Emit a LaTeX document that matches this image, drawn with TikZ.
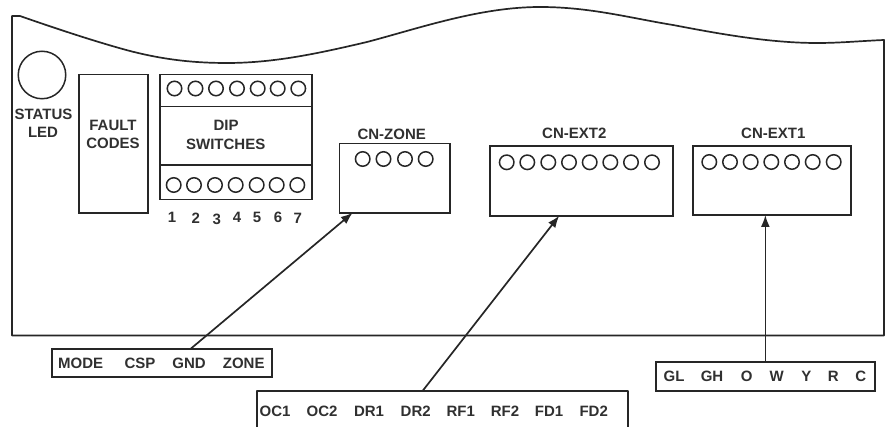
\documentclass[tikz,border=0pt]{standalone}
\usepackage{fontspec}
\setmainfont{Liberation Sans}
\usetikzlibrary{arrows.meta,calc}
\definecolor{ink}{HTML}{262626}
\definecolor{inktext}{HTML}{303030}
\tikzset{
  lbl/.style={font=\bfseries\fontsize{15}{17}\selectfont,text=inktext,inner sep=0pt,anchor=center},
  boxn/.style={draw=ink,line width=1.7pt,minimum width=#1,inner sep=0pt,outer sep=0pt},
  pin/.style={draw=ink,line width=1.5pt,circle,minimum size=14.5pt,inner sep=0pt},
  wire/.style={draw=ink,line width=1.7pt},
  arrowwire/.style={wire,-{Latex[length=12pt,width=9pt]}},
  edge/.style={draw=ink,line width=1.7pt,line join=round}
}
\begin{document}
\begin{tikzpicture}[x=1pt,y=-1pt]
\useasboundingbox (0,0) rectangle (891,427);
% board outline
\draw[edge] (12,335.5) -- (12,16) -- (20,16)
  .. controls (60,30) and (100,43) .. (130,51)
  .. controls (165,60) and (195,63) .. (227,63)
  .. controls (275,63) and (320,53) .. (367,42)
  .. controls (420,28) and (480,7) .. (540,7)
  .. controls (590,7) and (630,18) .. (673,25)
  .. controls (720,34) and (770,43) .. (817,43)
  .. controls (840,43) and (860,41) .. (884,40)
  -- (884,335.5) -- cycle;
% LED
\node[draw=ink,line width=1.5pt,circle,minimum size=47.5pt,inner sep=0pt] (led) at (42,75) {};
\node[lbl] (ledt1) at (43.5,114.5) {STATUS};
\node[lbl] (ledt2) at (43,132.5) {LED};
% fault codes
\node[boxn=69pt,minimum height=138.5pt] (fault) at (113.5,143.75) {};
\node[lbl] (f1) at (113,125) {FAULT};
\node[lbl] (f2) at (113,143) {CODES};
% DIP
\node[boxn=152pt,minimum height=125pt] (dip) at (236,137) {};
\node[boxn=152pt,minimum height=58.5pt] (dipmid) at (236,135.75) {};
\node[lbl] (d1) at (226,125.5) {DIP};
\node[lbl] (d2) at (225.7,144.5) {SWITCHES};
\foreach \i/\x in {1/174.5,2/195.5,3/216,4/237,5/257.7,6/277.7,7/298.3}
  \node[pin] (dt\i) at (\x,88.5) {};
\foreach \i/\x in {1/173.7,2/194,3/215,4/235.7,5/256.7,6/276.7,7/297.3}
  \node[pin] (db\i) at (\x,185) {};
\foreach \i/\x/\y in {1/172/217,2/195.7/218,3/216.7/219,4/237/217,5/257/217,6/278/217,7/297.7/218}
  \node[lbl] (n\i) at (\x,\y) {\i};
% CN-ZONE
\node[boxn=110.5pt,minimum height=69.2pt] (zone) at (394.75,178.1) {};
\node[lbl] (zonet) at (391.7,134) {CN-ZONE};
\foreach \i/\x in {1/362.7,2/383.5,3/405,4/425.7}
  \node[pin] (z\i) at (\x,159) {};
% CN-EXT2
\node[boxn=182.7pt,minimum height=70pt] (ext2) at (581.35,180.7) {};
\node[lbl] (ext2t) at (574.3,133) {CN-EXT2};
\foreach \i/\x in {1/506.7,2/527.3,3/548.3,4/569,5/589.7,6/610.3,7/631,8/652}
  \node[pin] (e\i) at (\x,162.3) {};
% CN-EXT1
\node[boxn=158.6pt,minimum height=69.3pt] (ext1) at (772,180.35) {};
\node[lbl] (ext1t) at (773.3,133) {CN-EXT1};
\foreach \i/\x in {1/709.3,2/730,3/750.7,4/771.3,5/792,6/812.7,7/833.7}
  \node[pin] (x\i) at (\x,162) {};
% terminal strips
\node[boxn=220pt,minimum height=28pt] (tzone) at (161.7,363.3) {};
\foreach \t/\x in {MODE/80.7,CSP/140,GND/189,ZONE/243.7}
  \node[lbl] (tz\t) at (\x,363) {\t};
\node[minimum width=371pt,minimum height=36.3pt,inner sep=0pt,outer sep=0pt] (text2) at (442.8,408.85) {};
\draw[edge] (text2.south west) -- (text2.north west) -- (text2.north east) -- (text2.south east);
\foreach \t/\x in {OC1/275,OC2/322,DR1/369,DR2/415.7,RF1/460.7,RF2/505,FD1/549,FD2/593.7}
  \node[lbl] (te\t) at (\x,411.3) {\t};
\node[boxn=219.3pt,minimum height=28.7pt] (text1) at (765.35,376.65) {};
\foreach \t/\x in {GL/674,GH/712,O/746.7,W/776.7,Y/806.3,R/833.3,C/860.7}
  \node[lbl] (tx\t) at (\x,376.7) {\t};
% connectors
\draw[arrowwire] ($(tzone.north west)!0.629!(tzone.north east)$) -- ($(zone.south west)!0.12!(zone.south east)$);
\draw[arrowwire] ($(text2.north west)!0.446!(text2.north east)$) -- ($(ext2.south west)!0.379!(ext2.south east)$);
\draw[arrowwire] (text1.north) -- (text1.north |- ext1.south);
\end{tikzpicture}
\end{document}
